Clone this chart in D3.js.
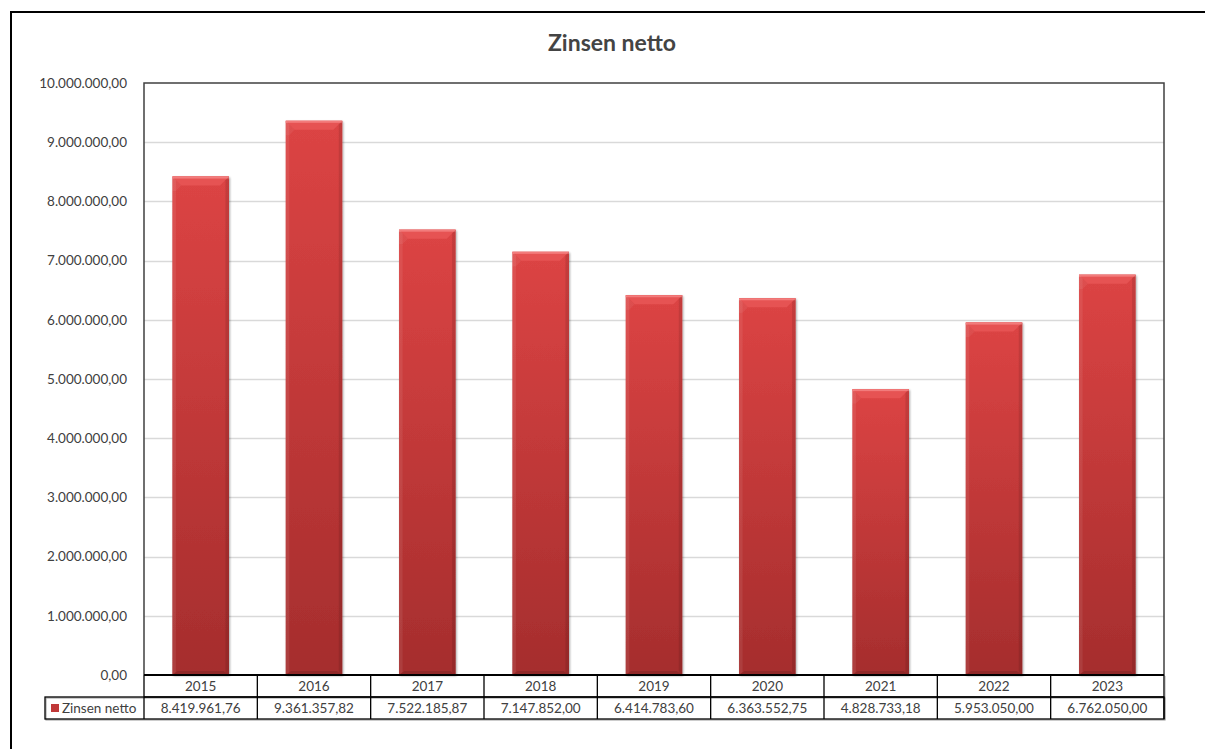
<!DOCTYPE html>
<html><head><meta charset="utf-8">
<script src="https://cdn.jsdelivr.net/npm/d3@7"></script>
<style>html,body{margin:0;padding:0;background:#fff;overflow:hidden}svg{display:block}</style>
</head><body>
<svg id="c" width="1205" height="749"></svg>
<script>
const title = "Zinsen netto";
const seriesName = "Zinsen netto";
const years = ["2015","2016","2017","2018","2019","2020","2021","2022","2023"];
const values = [8419961.76, 9361357.82, 7522185.87, 7147852.00, 6414783.60, 6363552.75, 4828733.18, 5953050.00, 6762050.00];
const yTicks = [0,1000000,2000000,3000000,4000000,5000000,6000000,7000000,8000000,9000000,10000000];

const fmt = v => {
  const s = v.toFixed(2);
  let [i, d] = s.split(".");
  i = i.replace(/\B(?=(\d{3})+(?!\d))/g, ".");
  return i + "," + d;
};

const svg = d3.select("#c");
const FONT = "Lato, 'Open Sans', sans-serif";
const L = 144, R = 1164, T = 83, B = 675, rowH = 22, legL = 45;

// outer frame
svg.append("rect").attr("x",11).attr("y",12).attr("width",1300).attr("height",900)
  .attr("fill","none").attr("stroke","#000").attr("stroke-width",2);

// title
svg.append("text").attr("x",612).attr("y",51).attr("text-anchor","middle")
  .attr("font-family",FONT).attr("font-weight","bold").attr("font-size",23)
  .attr("fill","#444").text(title);

const x = d3.scaleBand().domain(years).range([L,R]).padding(0);
const y = d3.scaleLinear().domain([0,10000000]).range([B,T]);

// gridlines
svg.append("g").selectAll("line").data(yTicks.filter(t=>t>0 && t<10000000)).join("line")
  .attr("x1",L).attr("x2",R).attr("y1",d=>Math.round(y(d))+0.5).attr("y2",d=>Math.round(y(d))+0.5)
  .attr("stroke","#d9d9d9").attr("stroke-width",1.5);

// y axis labels
const yAxis = d3.axisLeft(y).tickValues(yTicks).tickFormat(fmt).tickSize(0).tickPadding(17);
const ga = svg.append("g").attr("transform",`translate(${L},0)`).call(yAxis);
ga.select(".domain").remove();
ga.selectAll("text").attr("font-family",FONT).attr("font-size",13.5).attr("fill","#404040");

// defs
const defs = svg.append("defs");
const grad = defs.append("linearGradient").attr("id","bg").attr("x1",0).attr("x2",0).attr("y1",0).attr("y2",1);
grad.append("stop").attr("offset","0%").attr("stop-color","#dc4444");
grad.append("stop").attr("offset","100%").attr("stop-color","#a52d2d");
const sh = defs.append("filter").attr("id","sh").attr("x","-20%").attr("y","-5%").attr("width","140%").attr("height","110%");
sh.append("feGaussianBlur").attr("in","SourceAlpha").attr("stdDeviation",1.2);
sh.append("feOffset").attr("dx",1).attr("dy",1).attr("result","b");
sh.append("feComponentTransfer").append("feFuncA").attr("type","linear").attr("slope",0.35);
const m = sh.append("feMerge"); m.append("feMergeNode"); m.append("feMergeNode").attr("in","SourceGraphic");

// bars
const bw = x.bandwidth()*0.5;
const bars = svg.append("g").selectAll("g").data(values).join("g")
  .attr("transform",(d,i)=>`translate(${x(years[i]) + (x.bandwidth()-bw)/2},0)`);
bars.append("rect").attr("x",0).attr("width",bw).attr("y",d=>y(d)).attr("height",d=>B-y(d))
  .attr("fill","url(#bg)").attr("filter","url(#sh)");
const bv = 9;
// top bevel
bars.append("path").attr("d",d=>{const t=y(d);return `M0,${t}L${bw},${t}L${bw-bv},${t+bv}L${bv},${t+bv}Z`;})
  .attr("fill","#e65353");
bars.append("path").attr("d",d=>{const t=y(d);return `M0,${t}L${bv},${t+bv}L${bv*0.4},${t+bv*1.6}L0,${t+bv*1.6}Z`;})
  .attr("fill","#ffffff").attr("opacity",0.06);
bars.append("rect").attr("x",0).attr("width",bw).attr("y",d=>y(d)).attr("height",2)
  .attr("fill","#f27c7c");
// side bevels
bars.append("path").attr("d",d=>{const t=y(d);return `M0,${t}L${bv*0.4},${t+bv*0.4}L${bv*0.4},${B-3}L0,${B}Z`;})
  .attr("fill","#ffffff").attr("opacity",0.08);
bars.append("path").attr("d",d=>{const t=y(d);return `M${bw},${t}L${bw-bv*0.4},${t+bv*0.4}L${bw-bv*0.4},${B-3}L${bw},${B}Z`;})
  .attr("fill","#000").attr("opacity",0.1);
// bottom bevel
bars.append("path").attr("d",`M0,${B}L${bv*0.6},${B-4}L${bw-bv*0.6},${B-4}L${bw},${B}Z`)
  .attr("fill","#000").attr("opacity",0.12);

// plot border (left, top, right)
svg.append("path").attr("d",`M${L},${B}V${T}H${R}V${B}`).attr("fill","none")
  .attr("stroke","#404040").attr("stroke-width",1.5);
// baseline
svg.append("line").attr("x1",L).attr("x2",R).attr("y1",B).attr("y2",B).attr("stroke","#000").attr("stroke-width",1.8);

// data table
const tb = svg.append("g");
tb.append("rect").attr("x",legL+1).attr("y",B+rowH+1).attr("width",R-legL).attr("height",rowH)
  .attr("fill","none").attr("stroke","#aaa").attr("stroke-width",1.2);
tb.append("rect").attr("x",R+1).attr("y",B+1).attr("width",0.5).attr("height",rowH*2).attr("fill","#aaa");
const bounds = years.map(d=>x(d)).concat([R]);
tb.selectAll("line.v").data(bounds).join("line").attr("class","v")
  .attr("x1",d=>d).attr("x2",d=>d).attr("y1",B).attr("y2",B+2*rowH)
  .attr("stroke","#000").attr("stroke-width",1.3);
tb.append("line").attr("x1",L).attr("x2",R).attr("y1",B+rowH).attr("y2",B+rowH).attr("stroke","#000").attr("stroke-width",1.3);
tb.append("rect").attr("x",legL).attr("y",B+rowH).attr("width",R-legL).attr("height",rowH)
  .attr("fill","none").attr("stroke","#000").attr("stroke-width",1.3);
tb.selectAll("text.yr").data(years).join("text").attr("class","yr")
  .attr("x",d=>x(d)+x.bandwidth()/2).attr("y",B+rowH/2+5).attr("text-anchor","middle")
  .attr("font-family",FONT).attr("font-size",13.5).attr("fill","#404040").text(d=>d);
tb.selectAll("text.val").data(values).join("text").attr("class","val")
  .attr("x",(d,i)=>x(years[i])+x.bandwidth()/2).attr("y",B+rowH*1.5+5).attr("text-anchor","middle")
  .attr("font-family",FONT).attr("font-size",13.5).attr("fill","#404040").text(d=>fmt(d));
tb.append("rect").attr("x",51).attr("y",B+rowH+7).attr("width",8).attr("height",8).attr("fill","#c03838");
tb.append("text").attr("x",62).attr("y",B+rowH*1.5+5).attr("font-family",FONT).attr("font-size",13.5)
  .attr("fill","#404040").text(seriesName);
</script>
</body></html>
